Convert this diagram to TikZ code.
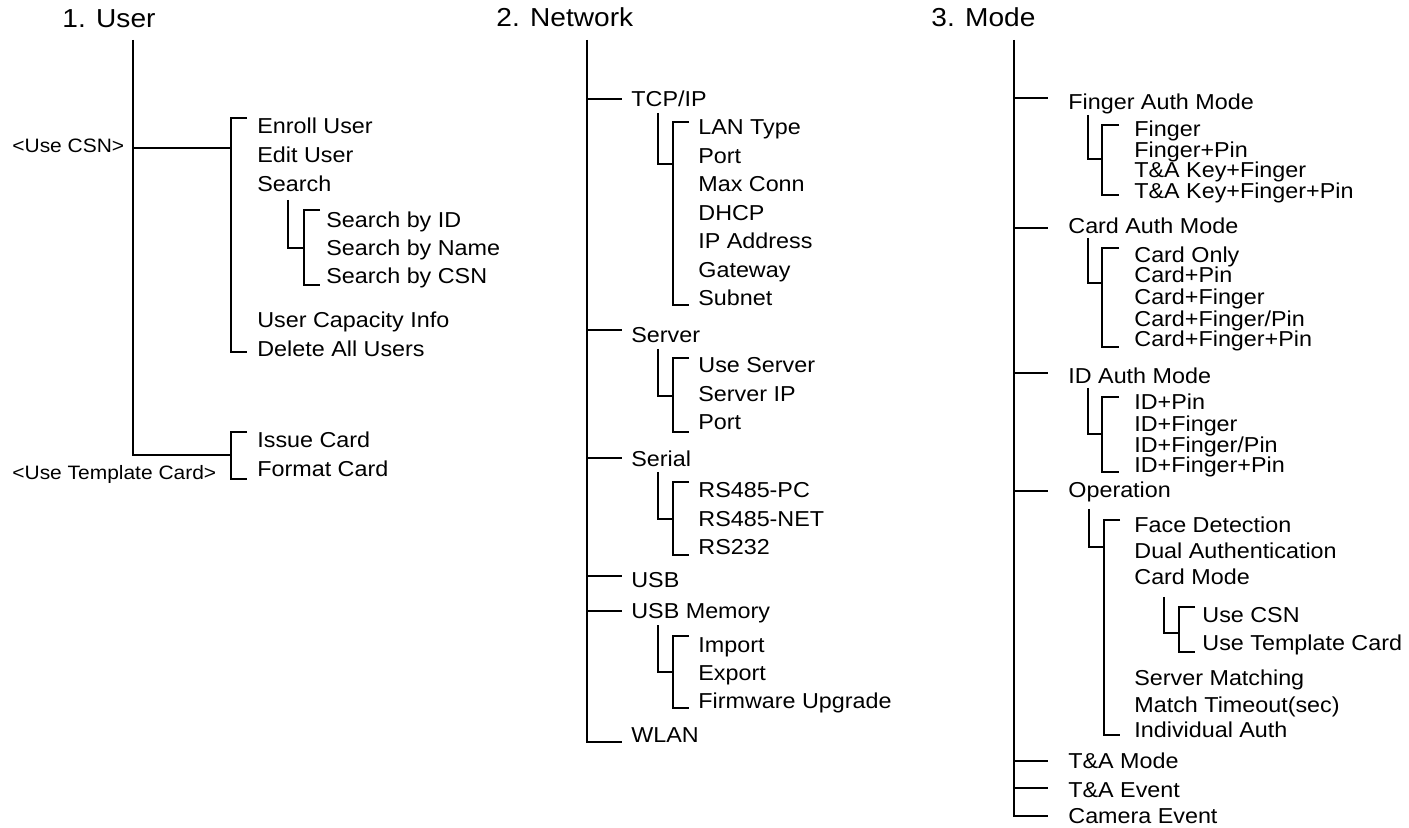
\documentclass[tikz,border=0pt]{standalone}
\usepackage{fontspec}
\setmainfont{Liberation Sans}[FakeStretch=1.08]
\begin{document}
\begin{tikzpicture}[x=0.5pt,y=-0.5pt,
  ln/.style={line width=1pt,line join=miter},
  item/.style={anchor=base west,inner sep=0pt,font=\fontsize{10.8pt}{12pt}\selectfont},
  ttl/.style={anchor=base west,inner sep=0pt,font=\fontsize{13pt}{15pt}\selectfont},
  lbl/.style={anchor=base west,inner sep=0pt,font=\fontsize{9.7pt}{11pt}\selectfont}]
\useasboundingbox (0,0) rectangle (1409,828);
\newcommand\mybrk[4]{\draw[ln] (#4,#2) -- (#1,#2) -- (#1,#3) -- (#4,#3);}
\newcommand\myhook[4]{\draw[ln] (#1,#2) -- (#1,#3) -- (#4,#3);}

% ---------- Column 1 ----------
\node[ttl] (t1) at (62,28) {1. User};
\coordinate (s1top) at (133,40);
\coordinate (s1a) at (133,148);
\coordinate (s1b) at (133,455);
\coordinate (b1a) at (231,148);
\coordinate (b1b) at (231,455);
\draw[ln] (s1top) -- (s1b) -- (b1b);
\draw[ln] (s1a) -- (b1a);
\node[lbl] (csn) at (12,153) {<Use CSN>};
\node[lbl] (tmpl) at (12,480) {<Use Template Card>};
\mybrk{231}{118}{352}{247}
\node[item] (u1) at (257,134) {Enroll User};
\node[item] (u2) at (257,162.5) {Edit User};
\node[item] (u3) at (257,191.5) {Search};
\myhook{288}{200}{248}{304}
\mybrk{304}{210}{285}{320}
\node[item] (u31) at (326,228) {Search by ID};
\node[item] (u32) at (326,256) {Search by Name};
\node[item] (u33) at (326,284) {Search by CSN};
\node[item] (u4) at (257,328) {User Capacity Info};
\node[item] (u5) at (257,356.5) {Delete All Users};
\mybrk{231}{432}{479}{247}
\node[item] (u6) at (257,448) {Issue Card};
\node[item] (u7) at (257,477) {Format Card};

% ---------- Column 2 ----------
\node[ttl] (t2) at (496,27) {2. Network};
\coordinate (s2top) at (587,40);
\coordinate (s2bot) at (587,742);
\draw[ln] (s2top) -- (s2bot) -- (622,742);
\foreach \yy in {99,330,458,576,611} \draw[ln] (587,\yy) -- (622,\yy);
\node[item] (n1) at (631,107) {TCP/IP};
\node[item] (n2) at (631,343) {Server};
\node[item] (n3) at (631,467) {Serial};
\node[item] (n4) at (631,588) {USB};
\node[item] (n5) at (631,618) {USB Memory};
\node[item] (n6) at (631,742) {WLAN};
\myhook{658}{113}{164}{673}
\mybrk{673}{122}{305}{689}
\node[item] (n11) at (698,135) {LAN Type};
\node[item] (n12) at (698,163.5) {Port};
\node[item] (n13) at (698,192) {Max Conn};
\node[item] (n14) at (698,220.5) {DHCP};
\node[item] (n15) at (698,249) {IP Address};
\node[item] (n16) at (698,277.5) {Gateway};
\node[item] (n17) at (698,306) {Subnet};
\myhook{658}{349}{396}{673}
\mybrk{673}{358}{432}{689}
\node[item] (n21) at (698,373) {Use Server};
\node[item] (n22) at (698,402) {Server IP};
\node[item] (n23) at (698,430) {Port};
\myhook{658}{472}{519}{673}
\mybrk{673}{482}{555}{689}
\node[item] (n31) at (698,498) {RS485-PC};
\node[item] (n32) at (698,527) {RS485-NET};
\node[item] (n33) at (698,555) {RS232};
\myhook{658}{625}{672}{673}
\mybrk{673}{636}{708}{689}
\node[item] (n51) at (698,652) {Import};
\node[item] (n52) at (698,680) {Export};
\node[item] (n53) at (698,708) {Firmware Upgrade};

% ---------- Column 3 ----------
\node[ttl] (t3) at (931,27) {3. Mode};
\coordinate (s3top) at (1014,40);
\coordinate (s3bot) at (1014,816);
\draw[ln] (s3top) -- (s3bot) -- (1048,816);
\foreach \yy in {98,228,373,491,761,788} \draw[ln] (1014,\yy) -- (1048,\yy);
\node[item] (m1) at (1068,110) {Finger Auth Mode};
\node[item] (m2) at (1068,234) {Card Auth Mode};
\node[item] (m3) at (1068,384) {ID Auth Mode};
\node[item] (m4) at (1068,498) {Operation};
\node[item] (m5) at (1068,768) {T\&A Mode};
\node[item] (m6) at (1068,797) {T\&A Event};
\node[item] (m7) at (1068,823) {Camera Event};
\myhook{1088}{115}{159}{1102}
\mybrk{1102}{125}{195}{1119}
\node[item] (m11) at (1134,137) {Finger};
\node[item] (m12) at (1134,157.5) {Finger+Pin};
\node[item] (m13) at (1134,178) {T\&A Key+Finger};
\node[item] (m14) at (1134,199) {T\&A Key+Finger+Pin};
\myhook{1088}{238}{283}{1102}
\mybrk{1102}{248}{347}{1119}
\node[item] (m21) at (1134,263) {Card Only};
\node[item] (m22) at (1134,283) {Card+Pin};
\node[item] (m23) at (1134,305) {Card+Finger};
\node[item] (m24) at (1134,327) {Card+Finger/Pin};
\node[item] (m25) at (1134,347) {Card+Finger+Pin};
\myhook{1088}{388}{434}{1102}
\mybrk{1102}{397}{472}{1119}
\node[item] (m31) at (1134,410) {ID+Pin};
\node[item] (m32) at (1134,432) {ID+Finger};
\node[item] (m33) at (1134,453) {ID+Finger/Pin};
\node[item] (m34) at (1134,473) {ID+Finger+Pin};
\myhook{1089}{509}{547}{1104}
\mybrk{1104}{520}{735}{1120}
\node[item] (m41) at (1134,532) {Face Detection};
\node[item] (m42) at (1134,559) {Dual Authentication};
\node[item] (m43) at (1134,584) {Card Mode};
\myhook{1164}{597}{633}{1179}
\mybrk{1179}{607}{652}{1195}
\node[item] (m431) at (1202,623) {Use CSN};
\node[item] (m432) at (1202,650) {Use Template Card};
\node[item] (m44) at (1134,685) {Server Matching};
\node[item] (m45) at (1134,712) {Match Timeout(sec)};
\node[item] (m46) at (1134,737) {Individual Auth};
\end{tikzpicture}
\end{document}
